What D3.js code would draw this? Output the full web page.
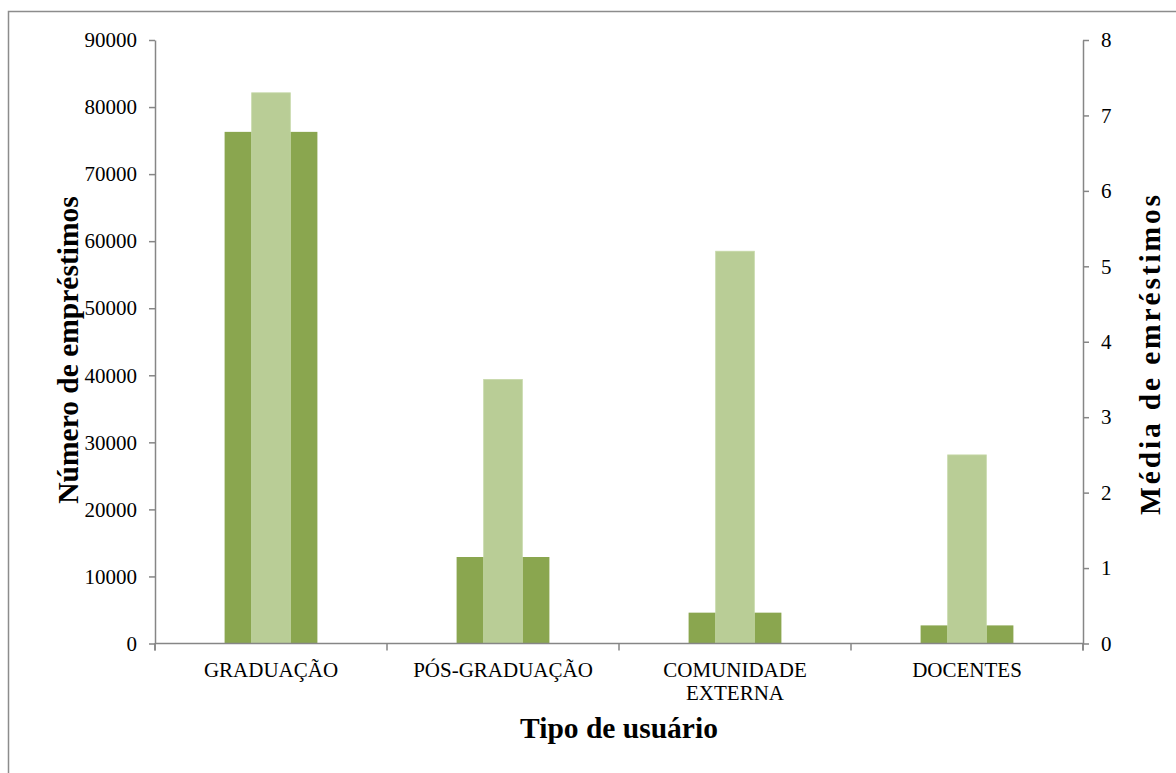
<!DOCTYPE html>
<html>
<head>
<meta charset="utf-8">
<script src="https://cdn.jsdelivr.net/npm/d3@7"></script>
<style>
  html, body { margin: 0; padding: 0; background: #ffffff; }
  svg { display: block; font-family: "Liberation Serif", "Times New Roman", serif; }
</style>
</head>
<body>
<svg id="chart" width="1176" height="773"></svg>
<script>
const categories = ["GRADUAÇÃO", "PÓS-GRADUAÇÃO", "COMUNIDADE EXTERNA", "DOCENTES"];
const categoryLines = [["GRADUAÇÃO"], ["PÓS-GRADUAÇÃO"], ["COMUNIDADE", "EXTERNA"], ["DOCENTES"]];
const emprestimos = [76300, 12900, 4600, 2700];
const mediaEmprestimos = [7.3, 3.5, 5.2, 2.5];
const leftTicks = [0, 10000, 20000, 30000, 40000, 50000, 60000, 70000, 80000, 90000];
const rightTicks = [0, 1, 2, 3, 4, 5, 6, 7, 8];

const svg = d3.select("#chart");
const W = 1176, H = 773;
const plot = { left: 155, right: 1083, top: 40, bottom: 643.5 };
const axisColor = "#868686";
const darkGreen = "#8aa64f";
const lightGreen = "#b9cd96";

// outer chart border (only top and left visible)
svg.append("path")
  .attr("d", `M8.5,${H} V11.5 H${W}`)
  .attr("fill", "none").attr("stroke", "#8c8c8c").attr("stroke-width", 1.5);

const x = d3.scaleBand().domain(categories).range([plot.left, plot.right]).paddingInner(0).paddingOuter(0);
const yL = d3.scaleLinear().domain([0, 90000]).range([plot.bottom, plot.top]);
const yR = d3.scaleLinear().domain([0, 8]).range([plot.bottom, plot.top]);
const bw = x.bandwidth();
const darkW = bw * 0.4, lightW = bw / 6;

// dark bars (primary axis)
svg.append("g").selectAll("rect").data(categories).join("rect")
  .attr("x", d => x(d) + bw / 2 - darkW / 2)
  .attr("width", darkW)
  .attr("y", (d, i) => yL(emprestimos[i]))
  .attr("height", (d, i) => plot.bottom - yL(emprestimos[i]))
  .attr("fill", darkGreen);

// light bars (secondary axis)
svg.append("g").selectAll("rect").data(categories).join("rect")
  .attr("x", d => x(d) + bw / 2 - lightW / 2)
  .attr("width", lightW)
  .attr("y", (d, i) => yR(mediaEmprestimos[i]))
  .attr("height", (d, i) => plot.bottom - yR(mediaEmprestimos[i]))
  .attr("fill", lightGreen)
  .attr("stroke", "#c6d8a8").attr("stroke-width", 0.8);

// left axis
const gL = svg.append("g").attr("transform", `translate(${plot.left},0)`)
  .call(d3.axisLeft(yL).tickValues(leftTicks).tickSize(6).tickPadding(12).tickFormat(d3.format("d")).tickSizeOuter(0));
// right axis
const gR = svg.append("g").attr("transform", `translate(${plot.right},0)`)
  .call(d3.axisRight(yR).tickValues(rightTicks).tickSize(6).tickPadding(12).tickFormat(d3.format("d")).tickSizeOuter(0));
[gL, gR].forEach(g => {
  g.select(".domain").attr("stroke", axisColor).attr("stroke-width", 1.5);
  g.selectAll(".tick line").attr("stroke", axisColor).attr("stroke-width", 1.5);
  g.selectAll(".tick text").attr("fill", "#000").style("font-size", "21px")
    .style("font-family", '"Liberation Serif", serif');
});
// extend vertical axes below zero
[plot.left, plot.right].forEach(px => {
  svg.append("line").attr("x1", px).attr("x2", px).attr("y1", plot.bottom).attr("y2", plot.bottom + 7)
    .attr("stroke", axisColor).attr("stroke-width", 1.5);
});

// bottom axis
svg.append("line").attr("x1", plot.left).attr("x2", plot.right).attr("y1", plot.bottom).attr("y2", plot.bottom)
  .attr("stroke", axisColor).attr("stroke-width", 1.5);
const boundaries = categories.map(c => x(c)).concat([plot.right]);
svg.append("g").selectAll("line").data(boundaries).join("line")
  .attr("x1", d => d).attr("x2", d => d)
  .attr("y1", plot.bottom).attr("y2", plot.bottom + 7)
  .attr("stroke", axisColor).attr("stroke-width", 1.5);

// category labels
const catG = svg.append("g");
categories.forEach((c, i) => {
  const t = catG.append("text")
    .attr("x", x(c) + bw / 2).attr("y", 677)
    .attr("text-anchor", "middle").style("font-size", "21px").attr("fill", "#000");
  categoryLines[i].forEach((ln, j) => {
    t.append("tspan").attr("x", x(c) + bw / 2).attr("dy", j === 0 ? 0 : 23).text(ln);
  });
});

// axis titles
svg.append("text")
  .attr("transform", `translate(78,350) rotate(-90)`)
  .attr("text-anchor", "middle").style("font-size", "29.5px").style("font-weight", "bold")
  .text("Número de empréstimos");
svg.append("text")
  .attr("transform", `translate(1160,355) rotate(-90)`)
  .attr("text-anchor", "middle").style("font-size", "29.5px").style("font-weight", "bold")
  .attr("textLength", 320).attr("lengthAdjust", "spacing")
  .text("Média de emréstimos");
svg.append("text")
  .attr("x", (plot.left + plot.right) / 2).attr("y", 738)
  .attr("text-anchor", "middle").style("font-size", "29.5px").style("font-weight", "bold")
  .text("Tipo de usuário");
</script>
</body>
</html>
